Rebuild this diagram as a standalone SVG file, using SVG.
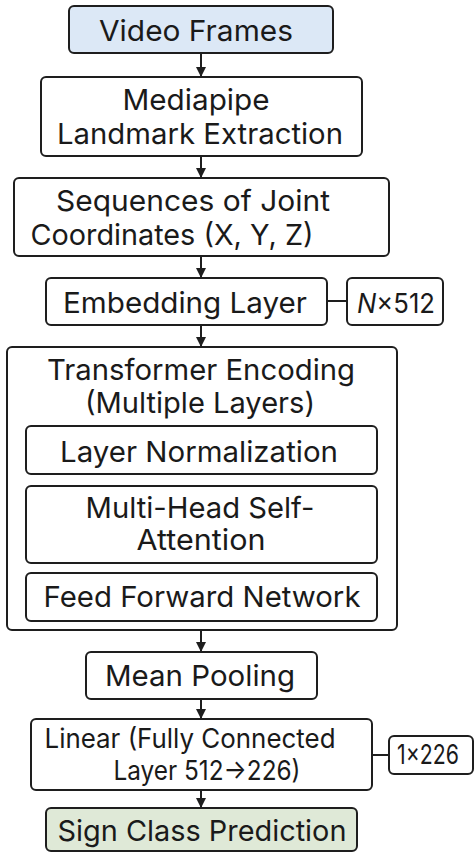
<svg xmlns="http://www.w3.org/2000/svg" width="474" height="852" viewBox="0 0 474 852">
<style>
.box{fill:#ffffff;stroke:#1e1e1e;stroke-width:2}
.t{font-family:Inter,"Noto Sans","Liberation Sans",sans-serif;font-size:29px;fill:#1a1a1a;text-anchor:middle}
.s{font-size:27px}
.c{stroke:#1e1e1e;stroke-width:2;fill:none}
</style>
<defs>
<marker id="ah" markerWidth="10" markerHeight="10" refX="9" refY="5" orient="auto" markerUnits="userSpaceOnUse">
<path d="M0,0 L10,5 L0,10 Z" fill="#1e1e1e"/>
</marker>
</defs>
<rect width="474" height="852" fill="#ffffff"/>
<g id="connectors">
<line class="c" x1="201" y1="53" x2="201" y2="76" marker-end="url(#ah)"/>
<line class="c" x1="201" y1="156" x2="201" y2="177" marker-end="url(#ah)"/>
<line class="c" x1="201" y1="256" x2="201" y2="277" marker-end="url(#ah)"/>
<line class="c" x1="201" y1="325" x2="201" y2="346" marker-end="url(#ah)"/>
<line class="c" x1="201" y1="630" x2="201" y2="651" marker-end="url(#ah)"/>
<line class="c" x1="201" y1="699" x2="201" y2="718" marker-end="url(#ah)"/>
<line class="c" x1="201" y1="790" x2="201" y2="807" marker-end="url(#ah)"/>
<line class="c" x1="327" y1="301" x2="347" y2="301"/>
<line class="c" x1="372" y1="755" x2="389" y2="755"/>
</g>
<g id="video-frames">
<rect class="box" x="69" y="6" width="264" height="47" rx="5" style="fill:#dce8f6"/>
<text class="t" x="196" y="41" textLength="194" lengthAdjust="spacingAndGlyphs">Video Frames</text>
</g>
<g id="mediapipe">
<rect class="box" x="41" y="77" width="321" height="79" rx="5"/>
<text class="t" x="196" y="110" textLength="147" lengthAdjust="spacingAndGlyphs">Mediapipe</text>
<text class="t" x="200" y="144" textLength="286" lengthAdjust="spacingAndGlyphs">Landmark Extraction</text>
</g>
<g id="sequences">
<rect class="box" x="14" y="178" width="375" height="78" rx="5"/>
<text class="t" x="193" y="211" textLength="274" lengthAdjust="spacingAndGlyphs">Sequences of Joint</text>
<text class="t" x="172" y="245" textLength="283" lengthAdjust="spacingAndGlyphs">Coordinates (X, Y, Z)</text>
</g>
<g id="embedding">
<rect class="box" x="46" y="278" width="281" height="47" rx="5"/>
<text class="t" x="185" y="313" textLength="244" lengthAdjust="spacingAndGlyphs">Embedding Layer</text>
</g>
<g id="dim-n512">
<rect class="box" x="347" y="278" width="96" height="47" rx="5"/>
<text class="t s" x="396" y="313" textLength="78" lengthAdjust="spacingAndGlyphs"><tspan font-style="italic">N</tspan>×512</text>
</g>
<g id="transformer">
<rect class="box" x="7" y="347" width="390" height="283" rx="5"/>
<text class="t" x="201" y="380" textLength="308" lengthAdjust="spacingAndGlyphs">Transformer Encoding</text>
<text class="t" x="200" y="413" textLength="230" lengthAdjust="spacingAndGlyphs">(Multiple Layers)</text>
</g>
<g id="layer-norm">
<rect class="box" x="26" y="426" width="351" height="48" rx="5"/>
<text class="t" x="199" y="462" textLength="278" lengthAdjust="spacingAndGlyphs">Layer Normalization</text>
</g>
<g id="mhsa">
<rect class="box" x="26" y="486" width="351" height="77" rx="5"/>
<text class="t" x="200" y="518" textLength="229" lengthAdjust="spacingAndGlyphs">Multi-Head Self-</text>
<text class="t" x="201" y="550" textLength="129" lengthAdjust="spacingAndGlyphs">Attention</text>
</g>
<g id="ffn">
<rect class="box" x="26" y="573" width="351" height="48" rx="5"/>
<text class="t" x="202" y="607" textLength="317" lengthAdjust="spacingAndGlyphs">Feed Forward Network</text>
</g>
<g id="mean-pooling">
<rect class="box" x="86" y="652" width="231" height="47" rx="5"/>
<text class="t" x="200" y="686" textLength="190" lengthAdjust="spacingAndGlyphs">Mean Pooling</text>
</g>
<g id="linear">
<rect class="box" x="31" y="719" width="341" height="71" rx="5"/>
<text class="t s" x="190" y="748" textLength="291" lengthAdjust="spacingAndGlyphs">Linear (Fully Connected</text>
<text class="t s" x="207" y="780" textLength="187" lengthAdjust="spacingAndGlyphs">Layer 512→226)</text>
</g>
<g id="dim-1x226">
<rect class="box" x="389" y="736" width="84" height="38" rx="5"/>
<text class="t s" x="428" y="764" textLength="62" lengthAdjust="spacingAndGlyphs">1×226</text>
</g>
<g id="sign-class">
<rect class="box" x="46" y="808" width="311" height="43" rx="5" style="fill:#dfe9d7"/>
<text class="t" x="202" y="841" textLength="289" lengthAdjust="spacingAndGlyphs">Sign Class Prediction</text>
</g>
</svg>
